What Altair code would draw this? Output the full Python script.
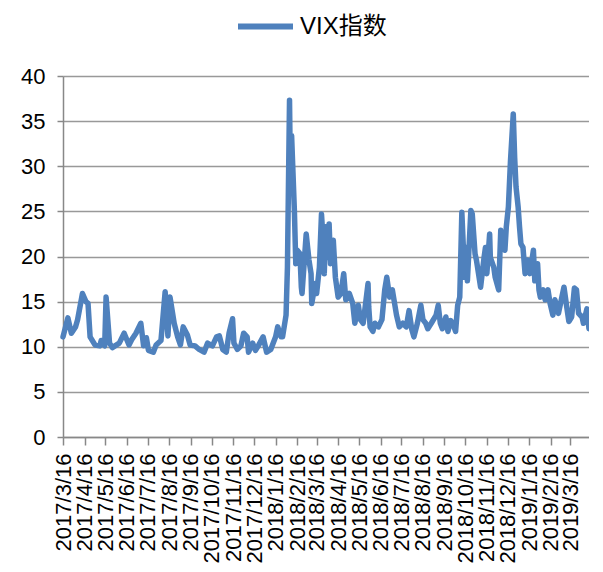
import altair as alt
import pandas as pd

dates = [
    "2017-03-16", "2017-03-23", "2017-03-28", "2017-04-03", "2017-04-06", "2017-04-13",
    "2017-04-18", "2017-04-21", "2017-04-24", "2017-05-01", "2017-05-08", "2017-05-10",
    "2017-05-15", "2017-05-17", "2017-05-22", "2017-05-26", "2017-06-05", "2017-06-12",
    "2017-06-19", "2017-06-23", "2017-06-29", "2017-07-06", "2017-07-10", "2017-07-14",
    "2017-07-17", "2017-07-24", "2017-07-28", "2017-08-04", "2017-08-10", "2017-08-14",
    "2017-08-17", "2017-08-23", "2017-08-28", "2017-09-01", "2017-09-05", "2017-09-11",
    "2017-09-15", "2017-09-22", "2017-09-28", "2017-10-05", "2017-10-10", "2017-10-17",
    "2017-10-23", "2017-10-27", "2017-11-01", "2017-11-06", "2017-11-10", "2017-11-15",
    "2017-11-17", "2017-11-22", "2017-11-27", "2017-12-01", "2017-12-06", "2017-12-08",
    "2017-12-14", "2017-12-18", "2017-12-22", "2017-12-29", "2018-01-03", "2018-01-09",
    "2018-01-16", "2018-01-19", "2018-01-24", "2018-01-26", "2018-01-31", "2018-02-02",
    "2018-02-05", "2018-02-06", "2018-02-08", "2018-02-12", "2018-02-14", "2018-02-16",
    "2018-02-20", "2018-02-22", "2018-02-23", "2018-03-01", "2018-03-05", "2018-03-08",
    "2018-03-09", "2018-03-14", "2018-03-16", "2018-03-20", "2018-03-23", "2018-03-26",
    "2018-03-27", "2018-03-29", "2018-04-02", "2018-04-03", "2018-04-05", "2018-04-09",
    "2018-04-12", "2018-04-16", "2018-04-20", "2018-04-24", "2018-04-27", "2018-05-02",
    "2018-05-07", "2018-05-10", "2018-05-15", "2018-05-18", "2018-05-22", "2018-05-29",
    "2018-05-30", "2018-06-01", "2018-06-05", "2018-06-08", "2018-06-13", "2018-06-18",
    "2018-06-22", "2018-06-25", "2018-06-29", "2018-07-03", "2018-07-09", "2018-07-13",
    "2018-07-18", "2018-07-23", "2018-07-27", "2018-07-31", "2018-08-03", "2018-08-08",
    "2018-08-13", "2018-08-16", "2018-08-20", "2018-08-23", "2018-08-28", "2018-09-04",
    "2018-09-07", "2018-09-10", "2018-09-13", "2018-09-18", "2018-09-21", "2018-09-25",
    "2018-09-28", "2018-10-02", "2018-10-05", "2018-10-08", "2018-10-11", "2018-10-15",
    "2018-10-17", "2018-10-19", "2018-10-24", "2018-10-26", "2018-10-30", "2018-11-01",
    "2018-11-07", "2018-11-12", "2018-11-14", "2018-11-16", "2018-11-20", "2018-11-21",
    "2018-11-26", "2018-11-28", "2018-12-03", "2018-12-06", "2018-12-10", "2018-12-12",
    "2018-12-14", "2018-12-17", "2018-12-20", "2018-12-24", "2018-12-26", "2018-12-28",
    "2018-12-31", "2019-01-02", "2019-01-04", "2019-01-07", "2019-01-10", "2019-01-14",
    "2019-01-17", "2019-01-22", "2019-01-24", "2019-01-28", "2019-01-30", "2019-02-01",
    "2019-02-05", "2019-02-08", "2019-02-12", "2019-02-15", "2019-02-19", "2019-02-22",
    "2019-02-27", "2019-03-07", "2019-03-11", "2019-03-14", "2019-03-18", "2019-03-22",
    "2019-03-25", "2019-03-28", "2019-04-02", "2019-04-04", "2019-04-09", "2019-04-12",
]

vix = [
    11.1, 13.2, 11.5, 12.2, 13.0, 15.9,
    15.0, 14.8, 11.1, 10.2, 10.1, 10.7,
    10.1, 15.5, 10.4, 9.9, 10.4, 11.5,
    10.2, 10.8, 11.5, 12.6, 10.1, 11.0,
    9.6, 9.4, 10.2, 10.7, 16.1, 11.2,
    15.5, 12.6, 11.1, 10.2, 12.2, 11.3,
    10.2, 10.1, 9.7, 9.4, 10.4, 10.1,
    11.1, 11.2, 9.7, 9.4, 11.5, 13.1,
    10.4, 9.7, 10.1, 11.5, 11.1, 9.4,
    10.4, 9.6, 10.1, 11.1, 9.4, 9.7,
    11.1, 12.2, 11.1, 11.1, 13.5, 18.8,
    37.3, 30.6, 33.4, 25.1, 19.2, 20.7,
    20.3, 16.6, 15.9, 22.5, 19.6, 18.1,
    14.8, 17.0, 15.9, 18.8, 24.7, 21.0,
    18.1, 23.3, 19.9, 23.6, 19.2, 21.8,
    17.7, 15.5, 15.9, 18.1, 15.2, 15.9,
    14.8, 12.6, 14.6, 13.0, 12.6, 17.0,
    14.4, 12.2, 11.7, 12.6, 12.2, 13.0,
    16.3, 17.7, 15.5, 16.3, 13.5, 12.2,
    12.6, 12.2, 14.0, 11.9, 11.1, 12.6,
    14.6, 13.0, 12.6, 12.0, 12.6, 13.5,
    14.6, 12.6, 12.0, 13.3, 11.7, 12.9,
    12.6, 11.7, 14.6, 15.5, 24.9, 17.7,
    21.0, 17.3, 25.1, 24.7, 20.3, 19.6,
    16.6, 19.9, 21.0, 18.1, 22.5, 19.9,
    18.8, 17.7, 16.3, 22.9, 21.0, 20.7,
    23.3, 25.5, 30.6, 35.8, 31.0, 27.7,
    25.5, 23.3, 21.4, 21.0, 18.1, 19.6,
    18.1, 20.7, 17.3, 19.2, 16.3, 15.5,
    16.3, 15.2, 16.3, 14.8, 13.5, 15.2,
    13.7, 16.6, 14.4, 12.8, 13.3, 16.5,
    16.3, 13.7, 13.3, 12.6, 14.2, 12.0,
]

series_name = "VIX指数"

tick_dates = [
    (2017, 3), (2017, 4), (2017, 5), (2017, 6), (2017, 7), (2017, 8), (2017, 9),
    (2017, 10), (2017, 11), (2017, 12), (2018, 1), (2018, 2), (2018, 3), (2018, 4),
    (2018, 5), (2018, 6), (2018, 7), (2018, 8), (2018, 9), (2018, 10), (2018, 11),
    (2018, 12), (2019, 1), (2019, 2), (2019, 3),
]
tick_day = 16
y_ticks = [0, 5, 10, 15, 20, 25, 30, 35, 40]

df = pd.DataFrame({
    "date": [d + "T00:00:00" for d in dates],
    "value": vix,
    "series": [series_name] * len(vix),
})

FONT = "Liberation Sans, Arial, Noto Sans CJK SC, sans-serif"
GRID = "#999999"
AXIS = "#888888"

x_values = [alt.DateTime(year=y, month=m, date=tick_day) for (y, m) in tick_dates]

chart = alt.Chart(df).mark_line(
    strokeWidth=5.5, strokeJoin="round", strokeCap="round"
).encode(
    x=alt.X(
        "date:T",
        scale=alt.Scale(
            domain=[alt.DateTime(year=2017, month=3, date=16),
                    alt.DateTime(year=2019, month=4, date=12)],
            nice=False,
        ),
        axis=alt.Axis(
            title=None, values=x_values, format="%Y/%-m/%-d", labelAngle=270,
            grid=False, domainColor=AXIS, domainWidth=1.5, tickColor=AXIS,
            tickWidth=1.5, tickSize=8, labelPadding=8, labelFontSize=22,
            labelFont=FONT, labelColor="#000000", labelOverlap=False,
            labelFlush=False,
        ),
    ),
    y=alt.Y(
        "value:Q",
        scale=alt.Scale(domain=[0, 40], nice=False),
        axis=alt.Axis(
            title=None, values=y_ticks, grid=True, gridColor=GRID, gridWidth=1.5,
            domainColor=AXIS, domainWidth=1.5, tickColor=AXIS, tickWidth=1.5,
            tickSize=6, labelPadding=12, labelFontSize=22, labelFont=FONT,
            labelColor="#000000",
        ),
    ),
    color=alt.Color(
        "series:N",
        scale=alt.Scale(range=["#4f81bd"]),
        legend=alt.Legend(
            title=None, orient="none", legendX=172, legendY=-80,
            symbolType="stroke", symbolSize=3025, symbolStrokeWidth=6,
            labelFontSize=24, labelFont=FONT, labelColor="#000000",
            labelOffset=4,
        ),
    ),
).properties(
    width=526, height=361, autosize="none",
    padding={"left": 55, "top": 68, "right": 0, "bottom": 130},
).configure_view(strokeWidth=0)

chart.save("out.html", embed_options={"renderer": "svg", "actions": False})
